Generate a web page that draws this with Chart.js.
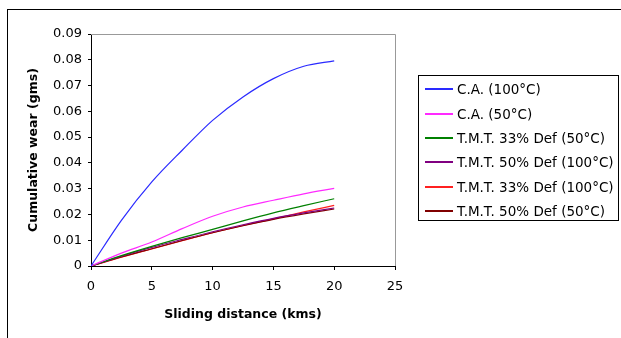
<!DOCTYPE html>
<html>
<head>
<meta charset="utf-8">
<script src="https://cdn.jsdelivr.net/npm/chart.js@4"></script>
<style>
  html, body { margin: 0; padding: 0; background: #fff; }
  #wrap { position: relative; width: 621px; height: 338px; overflow: hidden; font-family: "DejaVu Sans", sans-serif; }
  #frame { position: absolute; left: 7px; top: 9px; width: 700px; height: 400px; border-left: 1px solid #000; border-top: 1px solid #000; }
  #legend { position: absolute; left: 418px; top: 75px; width: 201px; height: 146px; border: 1px solid #000; box-sizing: border-box; padding-top: 1px; }
  .item { height: 24.4px; display: flex; align-items: center; font-size: 13.5px; color: #000; white-space: nowrap; }
  .item span.sw { display: inline-block; width: 28px; height: 2px; margin-left: 6px; margin-right: 4px; }
</style>
</head>
<body>
<div id="wrap">
  <div id="frame"></div>
  <canvas id="c" width="621" height="338"></canvas>
  <div id="legend"></div>
</div>
<script>
const distance = [0, 2.5, 5, 7.5, 10, 12.5, 15, 17.5, 20];
const caHot = [0, 0.0177, 0.0326, 0.0449, 0.0565, 0.0656, 0.0727, 0.0775, 0.0796];
const caWarm = [0, 0.0050, 0.0093, 0.0145, 0.0193, 0.0229, 0.0255, 0.0280, 0.0301];
const tmt33Warm = [0, 0.0040, 0.0076, 0.0110, 0.0142, 0.0175, 0.0206, 0.0234, 0.0261];
const tmt50Hot = [0, 0.0038, 0.0072, 0.0103, 0.0133, 0.0160, 0.0185, 0.0206, 0.0225];
const tmt33Hot = [0, 0.0034, 0.0066, 0.0098, 0.0129, 0.0157, 0.0183, 0.0210, 0.0235];
const tmt50Warm = [0, 0.0035, 0.0067, 0.0099, 0.0129, 0.0156, 0.0181, 0.0202, 0.0221];

const seriesNames = ["C.A. (100°C)", "C.A. (50°C)", "T.M.T. 33% Def (50°C)",
  "T.M.T. 50% Def (100°C)", "T.M.T. 33% Def (100°C)", "T.M.T. 50% Def (50°C)"];
const seriesValues = [caHot, caWarm, tmt33Warm, tmt50Hot, tmt33Hot, tmt50Warm];
const seriesColors = ["#2a2aff", "#ff2aff", "#008000", "#800080", "#ff2020", "#800000"];

const datasets = seriesNames.map((name, i) => ({
    label: name,
    data: distance.map((d, j) => ({ x: d, y: seriesValues[i][j] })),
    borderColor: seriesColors[i],
    borderWidth: 1.2,
    pointRadius: 0,
    fill: false,
    cubicInterpolationMode: 'monotone',
}));
// lower series drawn last, like the reference
const order = [0, 1, 2, 3, 5, 4];

const plotFrame = {
    id: 'plotFrame',
    beforeDatasetsDraw(chart) {
        const { ctx, chartArea: a } = chart;
        ctx.save();
        ctx.strokeStyle = '#999';
        ctx.lineWidth = 1;
        ctx.beginPath();
        ctx.moveTo(a.left, a.top + 0.5);
        ctx.lineTo(a.right + 0.5, a.top + 0.5);
        ctx.lineTo(a.right + 0.5, a.bottom);
        ctx.stroke();
        ctx.restore();
    }
};

const font = { family: '"DejaVu Sans", sans-serif', size: 13 };
const titleFont = { family: '"DejaVu Sans", sans-serif', size: 12.5, weight: 'bold' };

new Chart(document.getElementById('c').getContext('2d'), {
    type: 'line',
    data: { datasets: order.map(i => datasets[i]) },
    options: {
        responsive: false,
        animation: false,
        layout: { padding: { left: 7, right: 226, top: 34, bottom: 16 } },
        plugins: { legend: { display: false }, tooltip: { enabled: false } },
        scales: {
            x: {
                type: 'linear', min: 0, max: 25,
                ticks: { stepSize: 5, color: '#000', font: font, padding: 9 },
                grid: { drawOnChartArea: false, color: '#000', tickLength: 4 },
                border: { color: '#000' },
                title: { display: true, text: 'Sliding distance (kms)', color: '#000',
                         font: titleFont, padding: 0 },
                afterFit(scale) { scale.height = 56; }
            },
            y: {
                min: 0, max: 0.09,
                ticks: { stepSize: 0.01, color: '#000', font: font, padding: 6,
                         callback: v => v < 0.0001 ? '0' : v.toFixed(2) },
                grid: { drawOnChartArea: false, color: '#000', tickLength: 3 },
                border: { color: '#000' },
                title: { display: true, text: 'Cumulative wear (gms)', color: '#000',
                         font: titleFont, padding: { top: 19, bottom: 0 } },
                afterFit(scale) { scale.width = 84; }
            }
        }
    },
    plugins: [plotFrame]
});

const legend = document.getElementById('legend');
seriesNames.forEach((name, i) => {
    const row = document.createElement('div');
    row.className = 'item';
    const sw = document.createElement('span');
    sw.className = 'sw';
    sw.style.background = seriesColors[i];
    row.appendChild(sw);
    row.appendChild(document.createTextNode(name));
    legend.appendChild(row);
});
</script>
</body>
</html>
